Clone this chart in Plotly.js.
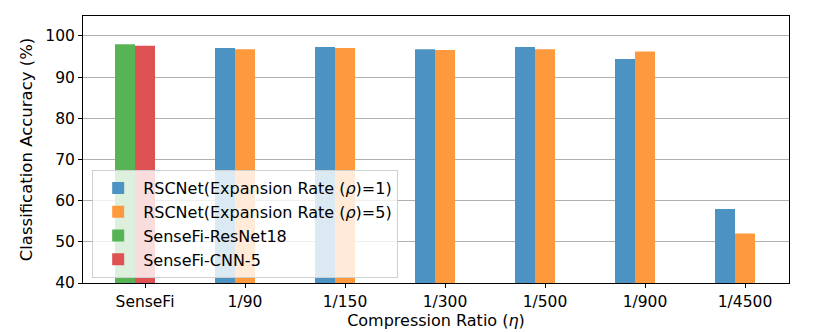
<!DOCTYPE html>
<html>
<head>
<meta charset="utf-8">
<script src="https://cdn.plot.ly/plotly-3.0.1.min.js"></script>
<style>
  body { margin: 0; padding: 0; background: #fff; }
  #plotArea { width: 830px; height: 332px; }
</style>
</head>
<body>
<div id="plotArea"></div>
<script>
var categories = ["SenseFi", "1/90", "1/150", "1/300", "1/500", "1/900", "1/4500"];
var ratios = ["1/90", "1/150", "1/300", "1/500", "1/900", "1/4500"];
var rscnetRho1 = [97.1, 97.3, 96.8, 97.3, 94.4, 58.0];
var rscnetRho5 = [96.8, 97.1, 96.6, 96.8, 96.2, 52.0];
var senseFiResNet18 = [98.0];
var senseFiCNN5 = [97.6];

var barWidth = 0.2;

function bars(name, x, y, color, offset) {
    return {
        type: "bar",
        name: name,
        legendgroup: name,
        x: x,
        y: y,
        width: barWidth,
        offset: offset,
        marker: {color: color, line: {color: color, width: 0}},
        base: 0
    };
}

var data = [
    bars("RSCNet(Expansion Rate (<i>ρ</i>)=1)", ratios, rscnetRho1, "#4c92c3", -0.3),
    bars("RSCNet(Expansion Rate (<i>ρ</i>)=5)", ratios, rscnetRho5, "#ff993e", -0.1),
    bars("SenseFi-ResNet18", ["SenseFi"], senseFiResNet18, "#56b356", -0.3),
    bars("SenseFi-CNN-5", ["SenseFi"], senseFiCNN5, "#de5253", -0.1)
];

var layout = {
    width: 830,
    height: 332,
    margin: {l: 83, r: 41, t: 16, b: 49},
    barmode: "overlay",
    font: {family: "DejaVu Sans", size: 15, color: "#000"},
    paper_bgcolor: "#fff",
    plot_bgcolor: "#fff",
    xaxis: {
        type: "category",
        categoryorder: "array",
        categoryarray: categories,
        range: [-0.62, 6.44],
        showgrid: false,
        showline: true,
        linecolor: "#000",
        linewidth: 1,
        mirror: true,
        ticks: "outside",
        ticklen: 4,
        tickcolor: "#000",
        tickfont: {size: 15.5},
        title: {text: "Compression Ratio (<i>η</i>)", font: {size: 16}, standoff: 4}
    },
    yaxis: {
        range: [40, 104.85],
        tickvals: [40, 50, 60, 70, 80, 90, 100],
        showgrid: true,
        gridcolor: "#b0b0b0",
        gridwidth: 1,
        showline: true,
        linecolor: "#000",
        linewidth: 1,
        mirror: true,
        ticks: "outside",
        ticklen: 4,
        tickcolor: "#000",
        tickfont: {size: 15.5},
        zeroline: false,
        title: {text: "Classification Accuracy (%)", font: {size: 16.5}, standoff: 8}
    },
    legend: {
        x: 0.013,
        y: 0.423,
        xanchor: "left",
        yanchor: "top",
        bgcolor: "rgba(255,255,255,0.8)",
        bordercolor: "#d0d0d0",
        borderwidth: 1,
        font: {size: 16},
        tracegroupgap: 0,
        itemwidth: 40
    },
    showlegend: true
};

Plotly.newPlot("plotArea", data, layout, {displayModeBar: false, staticPlot: true});
</script>
</body>
</html>
